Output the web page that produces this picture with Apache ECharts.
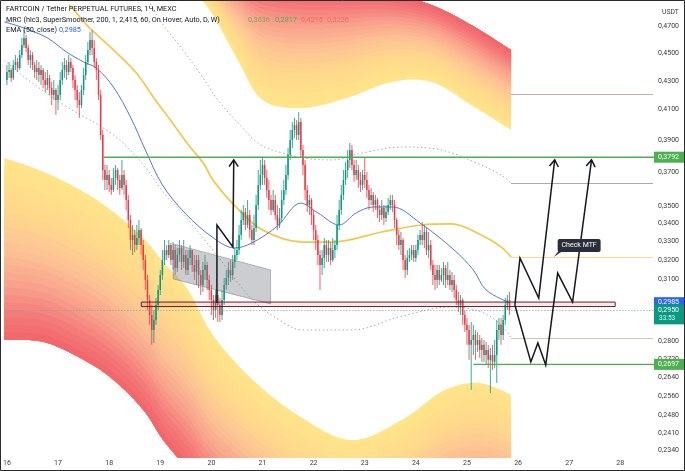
<!DOCTYPE html>
<html><head><meta charset="utf-8">
<script src="https://cdn.jsdelivr.net/npm/echarts@6/dist/echarts.min.js"></script>
<style>html,body{margin:0;padding:0;background:#fff;overflow:hidden}#c{width:685px;height:471px}</style>
</head><body><div id="c"></div>
<script>
// ---------- DATA (hours since day 16 00:00, prices in USDT) ----------
const dayTickHours = [0,24,48,72,96,120,144,168,192,216,240,264,288];
const dayTickLabels = ['16','17','18','19','20','21','22','23','24','25','26','27','28'];
const priceTicks = [0.47,0.45,0.43,0.41,0.39,0.37,0.35,0.34,0.33,0.32,0.31,0.28,0.272,0.264,0.256,0.248,0.241,0.234];

const firstOpen = 0.4306;
const closes = [
.4362,.4377,.4320,.4413,.4435,.4391,.4486,.4561,.4614,.4538,
.4449,.4486,.4413,.4362,.4391,.4341,.4377,.4306,.4270,.4320,
.4249,.4201,.4235,.4166,.4201,.4306,.4377,.4413,.4362,.4435,
.4391,.4306,.4235,.4166,.4132,.4235,.4341,.4435,.4523,.4598,
.4538,.4435,.4377,.4201,.3933,.3713,.3653,.3683,.3623,.3593,
.3665,.3713,.3653,.3605,.3683,.3623,.3534,.3420,.3309,.3337,
.3282,.3320,.3364,.3282,.3202,.3099,.2998,.2925,.2854,.2901,
.2974,.3048,.3124,.3202,.3255,.3229,.3282,.3202,.3255,.3160,
.3229,.3266,.3192,.3229,.3150,.3213,.3255,.3176,.3140,.3202,
.3124,.3073,.3150,.3176,.3099,.3048,.2998,.2949,.3023,.2974,
.2925,.2998,.3073,.3109,.3150,.3124,.3192,.3229,.3255,.3337,
.3420,.3465,.3392,.3448,.3364,.3309,.3375,.3505,.3623,.3683,
.3744,.3665,.3593,.3534,.3477,.3534,.3448,.3392,.3431,.3534,
.3593,.3683,.3806,.3901,.3966,.3998,.3933,.4018,.3837,.3744,
.3593,.3505,.3534,.3448,.3364,.3309,.3229,.3176,.3213,.3282,
.3229,.3266,.3202,.3255,.3282,.3392,.3477,.3564,.3653,.3713,
.3775,.3837,.3744,.3683,.3713,.3653,.3623,.3683,.3653,.3593,
.3534,.3564,.3505,.3534,.3477,.3448,.3488,.3431,.3465,.3505,
.3534,.3505,.3420,.3337,.3282,.3309,.3202,.3150,.3213,.3229,
.3255,.3213,.3255,.3309,.3337,.3309,.3353,.3255,.3282,.3176,
.3124,.3099,.3150,.3099,.3124,.3160,.3099,.3124,.3073,.3099,
.3048,.2998,.2974,.2998,.2925,.2878,.2854,.2785,.2807,.2831,
.2785,.2807,.2762,.2785,.2739,.2762,.2717,.2739,.2708,.2739,
.2854,.2878,.2831,.2901,.2974,.2998,.2950];
const highs = [
.4413,.4435,.4391,.4449,.4486,.4464,.4523,.4614,.4675,.4636,
.4561,.4523,.4508,.4435,.4449,.4435,.4413,.4391,.4362,.4377,
.4341,.4292,.4306,.4249,.4270,.4362,.4435,.4464,.4449,.4486,
.4464,.4413,.4341,.4270,.4221,.4270,.4391,.4486,.4583,.4660,
.4675,.4598,.4464,.4413,.4235,.3966,.3744,.3744,.3713,.3665,
.3726,.3744,.3726,.3683,.3775,.3713,.3653,.3564,.3448,.3392,
.3364,.3392,.3420,.3375,.3309,.3229,.3124,.3023,.2974,.2949,
.3008,.3073,.3150,.3255,.3309,.3282,.3309,.3293,.3298,.3282,
.3266,.3309,.3282,.3309,.3255,.3255,.3282,.3255,.3229,.3229,
.3229,.3150,.3192,.3229,.3192,.3124,.3073,.3023,.3048,.3048,
.3008,.3048,.3109,.3150,.3192,.3202,.3229,.3266,.3309,.3392,
.3477,.3505,.3488,.3534,.3477,.3392,.3448,.3564,.3713,.3775,
.3787,.3775,.3713,.3653,.3564,.3593,.3564,.3505,.3488,.3593,
.3653,.3744,.3850,.3966,.4018,.4045,.4031,.4085,.4045,.3869,
.3775,.3623,.3564,.3546,.3477,.3392,.3337,.3255,.3255,.3320,
.3309,.3309,.3298,.3320,.3309,.3448,.3534,.3623,.3713,.3763,
.3837,.3882,.3869,.3775,.3775,.3744,.3701,.3713,.3787,.3701,
.3623,.3605,.3581,.3564,.3546,.3505,.3534,.3505,.3505,.3546,
.3564,.3564,.3534,.3431,.3364,.3353,.3320,.3229,.3255,.3266,
.3282,.3282,.3282,.3337,.3364,.3409,.3392,.3375,.3353,.3309,
.3202,.3176,.3176,.3176,.3160,.3192,.3176,.3192,.3150,.3140,
.3124,.3073,.3038,.3023,.3008,.2949,.2911,.2878,.2892,.2878,
.2854,.2845,.2831,.2817,.2807,.2798,.2785,.2771,.2785,.2807,
.2901,.2911,.2911,.2925,.3008,.3023,.3038];
const lows = [
.4270,.4320,.4292,.4306,.4377,.4362,.4377,.4464,.4538,.4508,
.4413,.4391,.4377,.4320,.4306,.4292,.4270,.4249,.4221,.4235,
.4201,.4132,.4166,.4065,.4098,.4166,.4270,.4320,.4306,.4341,
.4362,.4249,.4166,.4112,.4045,.4112,.4201,.4306,.4413,.4486,
.4486,.4391,.4306,.4166,.3901,.3653,.3593,.3593,.3581,.3564,
.3581,.3623,.3593,.3564,.3593,.3564,.3477,.3375,.3255,.3229,
.3244,.3255,.3282,.3229,.3150,.3048,.2949,.2878,.2785,.2794,
.2878,.2949,.3023,.3099,.3176,.3202,.3213,.3176,.3150,.3124,
.3140,.3192,.3150,.3160,.3124,.3124,.3176,.3140,.3099,.3073,
.3058,.3023,.3038,.3099,.3048,.2998,.2925,.2901,.2911,.2892,
.2892,.2901,.2974,.3048,.3073,.3089,.3099,.3160,.3202,.3229,
.3309,.3392,.3364,.3375,.3320,.3282,.3282,.3353,.3477,.3593,
.3623,.3623,.3546,.3477,.3448,.3465,.3420,.3364,.3375,.3409,
.3505,.3564,.3653,.3775,.3850,.3914,.3901,.3901,.3787,.3683,
.3534,.3465,.3448,.3392,.3309,.3255,.3176,.3048,.3124,.3160,
.3192,.3192,.3176,.3192,.3213,.3255,.3364,.3448,.3534,.3623,
.3665,.3726,.3713,.3641,.3653,.3605,.3581,.3593,.3605,.3546,
.3477,.3505,.3465,.3477,.3431,.3409,.3420,.3392,.3409,.3448,
.3477,.3465,.3375,.3282,.3255,.3229,.3150,.3109,.3124,.3192,
.3202,.3192,.3192,.3229,.3282,.3282,.3266,.3229,.3213,.3150,
.3073,.3048,.3058,.3073,.3089,.3073,.3058,.3073,.3048,.3038,
.3008,.2974,.2940,.2925,.2878,.2845,.2785,.2717,.2586,.2739,
.2717,.2753,.2726,.2708,.2708,.2694,.2681,.2573,.2672,.2681,
.2616,.2807,.2785,.2807,.2878,.2949,.2925];

// EMA(50, close)
const emaHours  = [-1.2,8,19,28,36,42,50,58,65,73,84,97,107,115,127,138,146,156,164,172,181,194,210,219,225,236];
const emaValues = [.4737,.4690,.4614,.4508,.4435,.4391,.4256,.4051,.3837,.3623,.3454,.3320,.3266,.3293,.3386,.3516,.3460,.3392,.3460,.3494,.3494,.3403,.3255,.3150,.3048,.2985];

// MRC mean line
const meanHours  = [29.1,38.4,40.8,50.1,60.8,68.7,76.7,86,92.1,96.7,107.5,120,138.7,152.7,176,194.7,208.7,222.7,232,236.7];
const meanValues = [.4875,.4698,.4660,.4523,.4355,.4187,.4031,.3856,.3757,.3653,.3494,.3364,.3298,.3298,.3353,.3392,.3398,.3337,.3272,.3218];

// MRC inner (dotted) bands
const innerUpHours  = [66.4,73.4,82.7,92.1,99.1,110.7,119.1,129.4,138.7,152.7,166.7,185.4,204,222.7,232,236.7];
const innerUpValues = [.4911,.4713,.4523,.4320,.4166,.3979,.3869,.3818,.3787,.3775,.3818,.3856,.3837,.3744,.3683,.3635];
const innerLoHours  = [-1.2,8.1,26.8,50.1,64.1,73.4,85.1,96.7,115.4,129.4,138.7,162,185.4,208.7,222.7,232,236.7];
const innerLoValues = [.4449,.4327,.4132,.3933,.3744,.3581,.3420,.3255,.2998,.2892,.2854,.2854,.2920,.2964,.2940,.2878,.2817];

// MRC outer bands (inner edge / outer edge)
const upBandHours = [87.4,96.7,108.4,120,138.7,159.7,180.7,199.3,218,236.7];
const upBandInner = [.4992,.4791,.4449,.4166,.4112,.4180,.4292,.4292,.4132,.3966];
const upBandOuter = [.5245,.5202,.5116,.5034,.4992,.4976,.4951,.4871,.4713,.4523];
const loBandHours = [-1.2,17.4,36.1,50.1,64.1,73.4,85.1,96.7,115.4,138.7,162,185.4,204,218,227.3,236.7];
const loBandInner = [.3787,.3701,.3581,.3465,.3320,.3192,.3048,.2831,.2629,.2469,.2381,.2461,.2578,.2616,.2603,.2565];
const loBandOuter = [.2807,.2798,.2717,.2629,.2502,.2381,.2267,.2159,.2054,.1955,.1923,.1955,.2054,.2088,.2088,.2071];

// projections of the bands to the right
const projPrices = [0.4208, 0.3635, 0.3218, 0.2817];
const projHours  = [236.7, 303.4];

// drawings
const levelPrices = [0.3792, 0.2697];
const levelStartHours = [45.4, 219];
const zoneHours  = [63.1, 285.6];
const zonePrices = [0.2988, 0.2966];
const channelHours  = [78.1, 123.8, 123.8, 78.1];
const channelPrices = [0.3288, 0.3150, 0.2979, 0.3104];
const arrowN = [[98.6,.2983],[98.6,.3392],[106.1,.3272],[106.5,.3775]];
const arrowA = [[238.5,.2974],[240.9,.3213],[249.7,.3008],[257.2,.3775]];
const arrowB = [[238.5,.2974],[246,.2708],[249.3,.2794],[253,.2694],[258.6,.3134],[265.6,.2988],[274.5,.3775]];
const noteAnchor = [256.7, 0.3218];
const noteText = 'Check MTF';
const lastPrice = 0.2950;

// price-scale tags
const tagPrices = [0.3792, 0.2985, 0.2950, 0.2697];
const tagTexts  = ['0,3792','0,2985','0,2950','0,2697'];
const tagSub    = ['','','33:53',''];

// legend values
const mrcValues = ['0,3636','0,2817','0,4215','0,3236'];
const emaLegend = '0,2985';

// ---------- CHART ----------
const L = Math.log;
const X_MIN = -1.2, X_MAX = 304.3;
const FONT = 'Roboto, "Open Sans", sans-serif';
const fmt = v => v.toFixed(4).replace('.', ',');
const chart = echarts.init(document.getElementById('c'), null, {renderer:'canvas'});

function catmull(pts, n) {
  const out = [];
  for (let i = 0; i < pts.length - 1; i++) {
    const p0 = pts[Math.max(i-1,0)], p1 = pts[i], p2 = pts[i+1], p3 = pts[Math.min(i+2, pts.length-1)];
    for (let k = 0; k < n; k++) {
      const t = k/n, t2 = t*t, t3 = t2*t;
      const f = j => 0.5*((2*p1[j]) + (-p0[j]+p2[j])*t + (2*p0[j]-5*p1[j]+4*p2[j]-p3[j])*t2 + (-p0[j]+3*p1[j]-3*p2[j]+p3[j])*t3);
      out.push([f(0), f(1)]);
    }
  }
  out.push(pts[pts.length-1].slice());
  return out;
}
const stops = [[0,[255,229,138]],[0.28,[255,216,140]],[0.5,[252,194,148]],[0.7,[248,160,140]],[0.86,[244,122,120]],[1,[240,100,106]]];
function ramp(t) {
  for (let i = 0; i < stops.length-1; i++) {
    const [a, ca] = stops[i], [b, cb] = stops[i+1];
    if (t <= b) { const u = (t-a)/(b-a); return 'rgb(' + ca.map((c,j)=>Math.round(c+(cb[j]-c)*u)).join(',') + ')'; }
  }
  return 'rgb(240,100,106)';
}
function bandShapes(api, hours, inner, outer) {
  const pi = catmull(hours.map((h,i)=>api.coord([h, L(inner[i])])), 12);
  const po = catmull(hours.map((h,i)=>api.coord([h, L(outer[i])])), 12);
  const N = 24, out = [];
  for (let k = 0; k < N; k++) {
    const t0 = k/N;
    const top = pi.map((p,i)=>[p[0], p[1] + (po[i][1]-p[1])*t0]);
    const poly = top.concat(po.slice().reverse());
    out.push({type:'polygon', shape:{points:poly}, style:{fill: ramp((k+0.5)/N), stroke:null}});
  }
  return out;
}
function smoothLine(name, hours, values, color, width, type) {
  return {type:'line', name, data: hours.map((h,i)=>[h, L(values[i])]), smooth:0.35, showSymbol:false,
    lineStyle:{color, width, type: type || 'solid'}, silent:true, z:3};
}

const option = {
  animation:false,
  backgroundColor:'#ffffff',
  grid:{left:0, right:30, top:0, bottom:13},
  xAxis:{type:'value', min:X_MIN, max:X_MAX, axisLine:{show:false}, axisTick:{show:false}, splitLine:{show:false},
    axisLabel:{customValues: dayTickHours, formatter: v => dayTickLabels[dayTickHours.indexOf(Math.round(v))] || '',
      fontSize:7, color:'#3a3a3a', margin:2, fontFamily:FONT}},
  yAxis:{type:'value', position:'right', min:L(0.2312), max:L(0.4911), scale:true,
    axisLine:{show:false}, axisTick:{show:false}, splitLine:{show:false},
    axisLabel:{customValues: priceTicks.map(L), formatter: v => fmt(Math.exp(v)), fontSize:7, color:'#3a3a3a', margin:3, fontFamily:FONT}},
  series:[
    {type:'custom', name:'bands', clip:true, silent:true, z:1, data:[[0, L(0.3)]],
      renderItem:(params, api)=>({type:'group', children:
        bandShapes(api, upBandHours, upBandInner, upBandOuter).concat(bandShapes(api, loBandHours, loBandInner, loBandOuter))})},
    smoothLine('inner up', innerUpHours, innerUpValues, '#9fb596', 1, [1.5,2.5]),
    smoothLine('inner low', innerLoHours, innerLoValues, '#9fb596', 1, [1.5,2.5]),
    {type:'custom', name:'projections', clip:true, silent:true, z:3, data:projPrices.map((p,i)=>[projHours[0], L(p), i]),
      renderItem:(params, api)=>{
        const i = api.value(2);
        const a = api.coord([projHours[0], api.value(1)]), b = api.coord([projHours[1], api.value(1)]);
        const cols = ['#c9b0a0','#a9ada8','#f3dc8e','#c4cfb4'];
        return {type:'line', shape:{x1:a[0], y1:Math.round(a[1])+0.5, x2:b[0], y2:Math.round(a[1])+0.5}, style:{stroke:cols[i], lineWidth:1}};
      }},
    smoothLine('mean', meanHours, meanValues, '#f2c84b', 1.7),
    {type:'custom', name:'candles', clip:true, silent:true, z:4,
      data: closes.map((c,i)=>[i, L(i ? closes[i-1] : firstOpen), L(c), L(lows[i]), L(highs[i])]),
      encode:{x:0, y:[1,2,3,4]},
      renderItem:(params, api)=>{
        const h = api.value(0);
        const o = api.coord([h, api.value(1)]), c = api.coord([h, api.value(2)]);
        const lo = api.coord([h, api.value(3)]), hi = api.coord([h, api.value(4)]);
        const up = api.value(2) >= api.value(1);
        const color = up ? '#089981' : '#f23645';
        const w = 1.5, top = Math.min(o[1], c[1]), bot = Math.max(o[1], c[1]);
        return {type:'group', children:[
          {type:'line', shape:{x1:o[0], y1:Math.min(hi[1],top), x2:o[0], y2:Math.max(lo[1],bot)}, style:{stroke:color, lineWidth:0.8}},
          {type:'rect', shape:{x:o[0]-w/2, y:top, width:w, height:Math.max(bot-top, 0.8)}, style:{fill:color}}
        ]};
      }},
    smoothLine('EMA', emaHours, emaValues, '#5576d1', 1),
    {type:'custom', name:'drawings', clip:true, silent:true, z:5, data:[[0, L(0.3)]],
      renderItem:(params, api)=>{
        const C = (h,p)=>api.coord([h, L(p)]);
        const ch = [];
        const lp1 = C(X_MIN, lastPrice), lp2 = C(X_MAX, lastPrice);
        ch.push({type:'line', shape:{x1:lp1[0], y1:Math.round(lp1[1])+0.5, x2:lp2[0], y2:Math.round(lp1[1])+0.5}, style:{stroke:'#6fa8a0', lineWidth:1, lineDash:[1,2]}});
        ch.push({type:'polygon', shape:{points: channelHours.map((h,i)=>C(h, channelPrices[i]))}, style:{fill:'rgba(120,123,134,0.38)', stroke:'rgba(120,123,134,0.5)', lineWidth:1}});
        const z1 = C(zoneHours[0], zonePrices[0]), z2 = C(zoneHours[1], zonePrices[1]);
        ch.push({type:'rect', shape:{x:z1[0], y:z1[1], width:z2[0]-z1[0], height:z2[1]-z1[1]}, style:{fill:'rgba(242,54,69,0.12)', stroke:'#5e2230', lineWidth:1}});
        levelPrices.forEach((p,i)=>{
          const a = C(levelStartHours[i], p), b = C(X_MAX, p);
          ch.push({type:'line', shape:{x1:a[0], y1:a[1], x2:b[0], y2:b[1]}, style:{stroke:'#4caf50', lineWidth:1.4}});
        });
        [arrowN, arrowA, arrowB].forEach(path=>{
          const pts = path.map(([h,p])=>C(h,p));
          ch.push({type:'polyline', shape:{points:pts}, style:{stroke:'#131722', lineWidth:1.5, fill:null}});
          const a = pts[pts.length-2], b = pts[pts.length-1];
          const ang = Math.atan2(b[1]-a[1], b[0]-a[0]), len = 8, sp = 0.6;
          ch.push({type:'polyline', shape:{points:[[b[0]-len*Math.cos(ang-sp), b[1]-len*Math.sin(ang-sp)], b, [b[0]-len*Math.cos(ang+sp), b[1]-len*Math.sin(ang+sp)]]}, style:{stroke:'#131722', lineWidth:1.5, fill:null}});
        });
        const n = C(noteAnchor[0], noteAnchor[1]);
        ch.push({type:'polygon', shape:{points:[[n[0], n[1]], [n[0]+5, n[1]-6], [n[0]+9, n[1]-6]]}, style:{fill:'#2a2e39'}});
        ch.push({type:'rect', shape:{x:n[0]+4, y:n[1]-18, width:43, height:13, r:2}, style:{fill:'#2a2e39'}});
        ch.push({type:'text', x:n[0]+25.5, y:n[1]-11.5, style:{text:noteText, fill:'#ffffff', font:'7px ' + FONT, align:'center', verticalAlign:'middle'}});
        return {type:'group', children:ch};
      }},
    {type:'custom', name:'tags', clip:false, silent:true, z:10,
      data: tagPrices.map((p,i)=>[X_MAX, L(p), i]),
      renderItem:(params, api)=>{
        const i = api.value(2);
        const pt = api.coord([api.value(0), api.value(1)]);
        const cols = ['#4caf50','#2962ff','#089981','#4caf50'];
        const hasSub = tagSub[i] !== '';
        const hgt = hasSub ? 20 : 11;
        const ytop = pt[1] - 5.5;
        const kids = [
          {type:'rect', shape:{x:pt[0]-1, y:ytop, width:32, height:hgt}, style:{fill:cols[i]}},
          {type:'text', x:pt[0]+3, y:pt[1], style:{text:tagTexts[i], fill:'#fff', font:'7px ' + FONT, verticalAlign:'middle'}}
        ];
        if (hasSub) kids.push({type:'text', x:pt[0]+4, y:pt[1]+9, style:{text:tagSub[i], fill:'#dff3ee', font:'6.5px ' + FONT, verticalAlign:'middle'}});
        return {type:'group', children:kids};
      }}
  ],
  graphic:[
    {type:'text', x:6, y:9, z:20, style:{text:'FARTCOIN / Tether PERPETUAL FUTURES, 1Ч, MEXC', font:'7.3px ' + FONT, fill:'#131722', verticalAlign:'middle'}},
    {type:'text', x:6, y:20, z:20, style:{text:'MRC (hlc3, SuperSmoother, 200, 1, 2,415, 60, On Hover, Auto, D, W)', font:'7.3px ' + FONT, fill:'#131722', verticalAlign:'middle'}},
    {type:'text', x:248, y:20, z:20, style:{text:mrcValues[0], font:'7.3px ' + FONT, fill:'#8aa35a', verticalAlign:'middle'}},
    {type:'text', x:275, y:20, z:20, style:{text:mrcValues[1], font:'7.3px ' + FONT, fill:'#4caf50', verticalAlign:'middle'}},
    {type:'text', x:301, y:20, z:20, style:{text:mrcValues[2], font:'7.3px ' + FONT, fill:'#ef6a6a', verticalAlign:'middle'}},
    {type:'text', x:327, y:20, z:20, style:{text:mrcValues[3], font:'7.3px ' + FONT, fill:'#ef6a6a', verticalAlign:'middle'}},
    {type:'text', x:6, y:30, z:20, style:{text:'EMA (50, close)', font:'7.3px ' + FONT, fill:'#131722', verticalAlign:'middle'}},
    {type:'text', x:59, y:30, z:20, style:{text:emaLegend, font:'7.3px ' + FONT, fill:'#2962ff', verticalAlign:'middle'}},
    {type:'text', x:662, y:12, z:20, style:{text:'USDT', font:'6.8px ' + FONT, fill:'#3a3a3a', verticalAlign:'middle'}},
    {type:'rect', z:30, shape:{x:0.5, y:0.5, width:684, height:470}, style:{fill:null, stroke:'#2b2b2b', lineWidth:1}}
  ]
};
chart.setOption(option);
</script></body></html>
